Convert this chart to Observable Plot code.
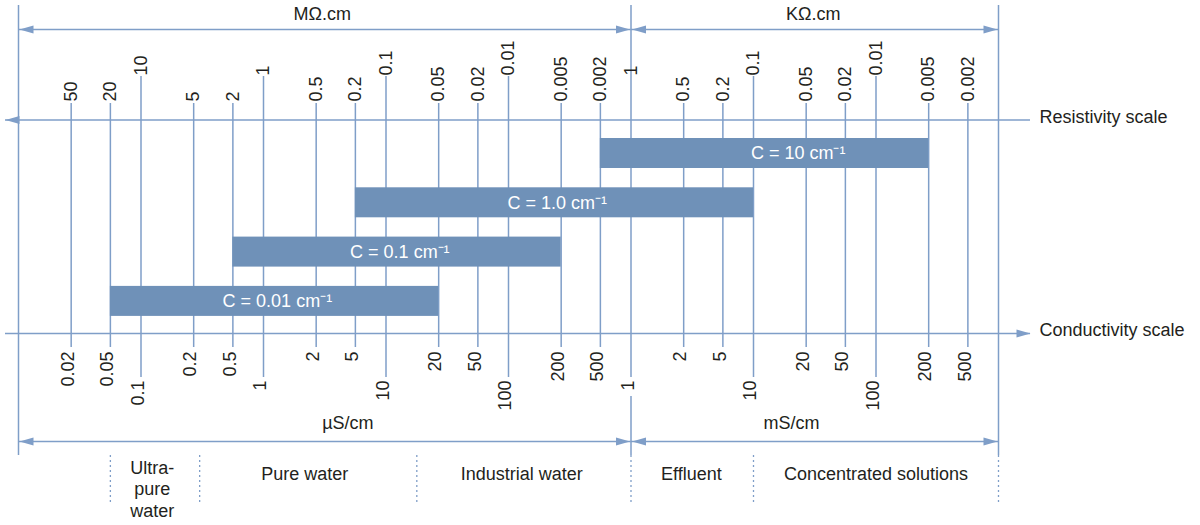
<!DOCTYPE html>
<html>
<head>
<meta charset="utf-8">
<script src="https://cdn.jsdelivr.net/npm/d3@7"></script>
<script src="https://cdn.jsdelivr.net/npm/@observablehq/plot@0.6"></script>
<style>
  html, body { margin: 0; padding: 0; background: #fff; }
  #chart svg { display: block; }
</style>
</head>
<body>
<div id="chart"></div>
<script>
// ---------------- DATA ----------------
// Resistivity tick labels, left to right (MΩ·cm, then kΩ·cm)
const resistivityMOhm = [50, 20, 10, 5, 2, 1, 0.5, 0.2, 0.1, 0.05, 0.02, 0.01, 0.005, 0.002];
const resistivityKOhm = [1, 0.5, 0.2, 0.1, 0.05, 0.02, 0.01, 0.005, 0.002];
// Conductivity tick labels, left to right (µS/cm, then mS/cm)
const conductivityUS = [0.02, 0.05, 0.1, 0.2, 0.5, 1, 2, 5, 10, 20, 50, 100, 200, 500];
const conductivityMS = [1, 2, 5, 10, 20, 50, 100, 200, 500];

// Cell constants and their measuring ranges (µS/cm)
const cellLabels  = ["C = 10 cm⁻¹", "C = 1.0 cm⁻¹", "C = 0.1 cm⁻¹", "C = 0.01 cm⁻¹"];
const cellFrom    = [500, 5, 0.5, 0.05];
const cellTo      = [200000, 10000, 200, 20];
const cellLabelAt = [18000, 190, 12, 1.2];

// Unit spans (µS/cm)
const unitLabels  = ["MΩ.cm", "KΩ.cm", "µS/cm", "mS/cm"];
const unitFrom    = [0.01, 1000, 0.01, 1000];
const unitTo      = [1000, 1e6, 1000, 1e6];
const unitLabelAt = [2.3, 23600, 4.2, 16500];
const unitRow     = ["top", "top", "bottom", "bottom"];

// Application regions (µS/cm)
const regionLabels  = ["Ultra-\npure\nwater", "Pure water", "Industrial water", "Effluent", "Concentrated solutions"];
const regionLabelAt = [0.116, 1.72, 119, 2400, 100000];
const regionBounds  = [0.05, 0.23, 15, 1000, 10000, 1e6];

// Axis names
const axisNames = ["Resistivity scale", "Conductivity scale"];

// ---------------- LAYOUT / STYLE ----------------
const LINE = "#7f9ec8", BAR = "#6f91b8", INK = "#231f20";
const W = 1200, H = 525;
const X0 = 18, DEC = 122.5;                       // pixel origin & decade width of the schematic scale
const mantissaPos = [[1, 0], [2, 0.43], [5, 0.75]]; // schematic position of 1-2-5 inside a decade
const Y = {top: 5, unitTop: 29, resAxis: 119.5, condAxis: 333, unitBottom: 441, frameBottom: 455, sepBottom: 503};
const barTop0 = 138, barStep = 49.3, barH = 30;

// piecewise log scale domain/range
const scaleDomain = [], scaleRange = [];
for (let k = -2; k <= 6; k++) {
  for (const [m, f] of mantissaPos) {
    if (k === 6 && m > 1) break;
    scaleDomain.push(+(m * Math.pow(10, k)).toPrecision(6));
    scaleRange.push(X0 + DEC * (k + 2 + f));
  }
}

const isMajor = v => Math.abs(Math.log10(v) - Math.round(Math.log10(v))) < 1e-6;

const resTicks = [
  ...resistivityMOhm.map(r => ({x: +(1 / r).toPrecision(6), label: String(r)})),
  ...resistivityKOhm.map(r => ({x: +(1000 / r).toPrecision(6), label: String(r)}))
].map(d => ({...d, major: isMajor(d.x)}));
const condTicks = [
  ...conductivityUS.map(c => ({x: c, label: String(c)})),
  ...conductivityMS.map(c => ({x: +(c * 1000).toPrecision(6), label: String(c)}))
].map(d => ({...d, major: isMajor(d.x)}));

const cells = cellLabels.map((label, i) => ({label, from: cellFrom[i], to: cellTo[i], at: cellLabelAt[i], i}));
const units = unitLabels.map((label, i) => ({label, from: unitFrom[i], to: unitTo[i], at: unitLabelAt[i], row: unitRow[i]}));
const regions = regionLabels.map((label, i) => ({label, at: regionLabelAt[i]}));

// filled arrowheads (tip at origin)
const headRight = {draw(ctx) { ctx.moveTo(0, 0); ctx.lineTo(-14, -4); ctx.lineTo(-14, 4); ctx.closePath(); }};
const headLeft  = {draw(ctx) { ctx.moveTo(0, 0); ctx.lineTo(14, -4); ctx.lineTo(14, 4); ctx.closePath(); }};

const unitY = d => d.row === "top" ? Y.unitTop : Y.unitBottom;
const lw = 1.5;

const chart = Plot.plot({
  width: W,
  height: H,
  marginLeft: 5,
  marginRight: 170,
  marginTop: 0,
  marginBottom: 0,
  x: {type: "log", domain: scaleDomain, range: scaleRange, axis: null},
  y: {type: "identity", axis: null},
  style: {fontFamily: "'Liberation Sans', Arial, Helvetica, sans-serif", fontSize: "18px", color: INK, background: "#fff"},
  marks: [
    // vertical grid/tick lines
    Plot.ruleX(condTicks, {x: "x", y1: d => d.major ? 76 : 103, y2: d => d.major ? 377 : 347, stroke: LINE, strokeWidth: lw}),
    // frame verticals
    Plot.ruleX([0.01, 1e6], {x: d => d, y1: Y.top, y2: Y.frameBottom, stroke: LINE, strokeWidth: lw}),
    Plot.ruleX([1000], {x: d => d, y1: Y.top, y2: 76, stroke: LINE, strokeWidth: lw}),
    Plot.ruleX([1000], {x: d => d, y1: 396, y2: Y.frameBottom, stroke: LINE, strokeWidth: lw}),
    // dotted region separators
    Plot.ruleX(regionBounds, {x: d => d, y1: Y.frameBottom, y2: Y.sepBottom, stroke: LINE, strokeWidth: 1.3, strokeDasharray: "2,3"}),
    // scale axes
    Plot.ruleY([Y.resAxis, Y.condAxis], {y: d => d, stroke: LINE, strokeWidth: lw}),
    Plot.dot([Y.resAxis], {y: d => d, frameAnchor: "left", symbol: headLeft, fill: LINE, stroke: "none"}),
    Plot.dot([Y.condAxis], {y: d => d, frameAnchor: "right", symbol: headRight, fill: LINE, stroke: "none"}),
    Plot.text(axisNames, {text: d => d, y: (d, i) => (i === 0 ? Y.resAxis : Y.condAxis) - 3, frameAnchor: "right", dx: 9, textAnchor: "start", fill: INK}),
    // unit spans
    Plot.ruleY(units, {x1: "from", x2: "to", y: unitY, stroke: LINE, strokeWidth: lw}),
    Plot.dot(units, {x: "from", y: unitY, symbol: headLeft, fill: LINE, stroke: "none", dx: 1}),
    Plot.dot(units, {x: "to", y: unitY, symbol: headRight, fill: LINE, stroke: "none", dx: -1}),
    Plot.text(units, {x: "at", y: d => d.row === "top" ? 14 : 423, text: "label", fill: INK}),
    // cell-constant bars
    Plot.rect(cells, {x1: "from", x2: "to", y1: d => barTop0 + d.i * barStep, y2: d => barTop0 + d.i * barStep + barH, fill: BAR}),
    Plot.text(cells, {x: "at", y: d => barTop0 + d.i * barStep + barH / 2, text: "label", fill: "#fff"}),
    // resistivity labels (top)
    Plot.text(resTicks, {x: "x", y: d => d.major ? 75 : 101, text: "label", rotate: -90, textAnchor: "start", fill: INK}),
    // conductivity labels (bottom)
    Plot.text(condTicks, {x: "x", y: d => d.major ? 380 : 351, text: "label", rotate: -90, textAnchor: "end", dx: -3, fill: INK}),
    // application regions
    Plot.text(regions, {x: "at", y: d => d.label.includes("\n") ? 458 : 464, text: "label", lineAnchor: "top", lineHeight: 1.2, fill: INK})
  ]
});

document.getElementById("chart").appendChild(chart);
</script>
</body>
</html>
